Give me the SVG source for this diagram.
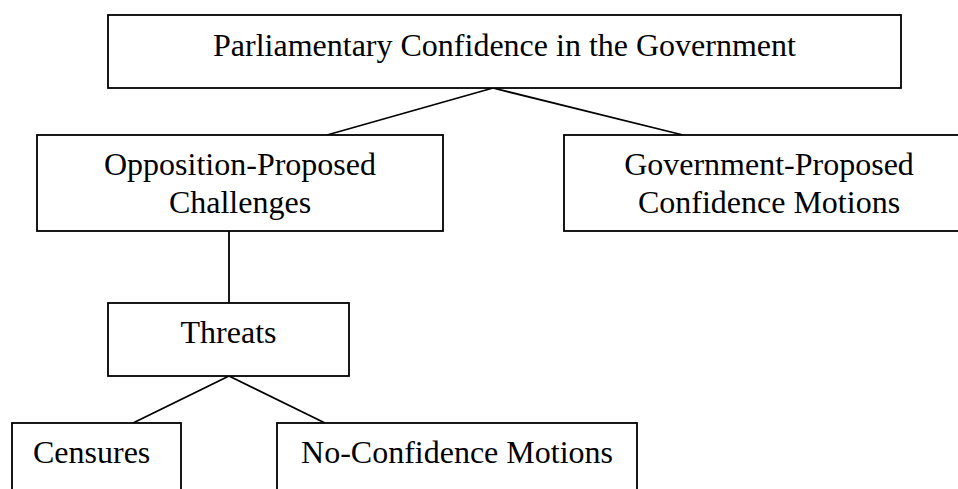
<svg xmlns="http://www.w3.org/2000/svg" width="958" height="489" viewBox="0 0 958 489">
<style>
rect{fill:#fff;stroke:#000;stroke-width:1.8}
line{stroke:#000;stroke-width:1.8}
text{font-family:"Liberation Serif","Times New Roman",serif;font-size:32px;fill:#000}
.m{text-anchor:middle}
</style>
<rect x="0" y="0" width="958" height="489" style="fill:#fff;stroke:none"/>
<g id="connectors">
<line x1="493" y1="88" x2="327" y2="135"/>
<line x1="493" y1="88" x2="683" y2="135"/>
<line x1="229" y1="231" x2="229" y2="303"/>
<line x1="229" y1="376" x2="133" y2="423"/>
<line x1="229" y1="376" x2="325" y2="423"/>
</g>
<g id="root">
<rect x="108" y="15" width="793" height="73"/>
<text class="m" x="504.5" y="56">Parliamentary Confidence in the Government</text>
</g>
<g id="opposition">
<rect x="37" y="135" width="406" height="96"/>
<text class="m" x="240" y="175">Opposition-Proposed</text>
<text class="m" x="240" y="213">Challenges</text>
</g>
<g id="government">
<rect x="564" y="135" width="410" height="96"/>
<text class="m" x="769" y="175">Government-Proposed</text>
<text class="m" x="769" y="213">Confidence Motions</text>
</g>
<g id="threats">
<rect x="108" y="303" width="241" height="73"/>
<text class="m" x="228.5" y="343">Threats</text>
</g>
<g id="censures">
<rect x="12" y="423" width="169" height="80"/>
<text x="33" y="463">Censures</text>
</g>
<g id="noconfidence">
<rect x="277" y="423" width="360" height="80"/>
<text class="m" x="457" y="463">No-Confidence Motions</text>
</g>
</svg>
